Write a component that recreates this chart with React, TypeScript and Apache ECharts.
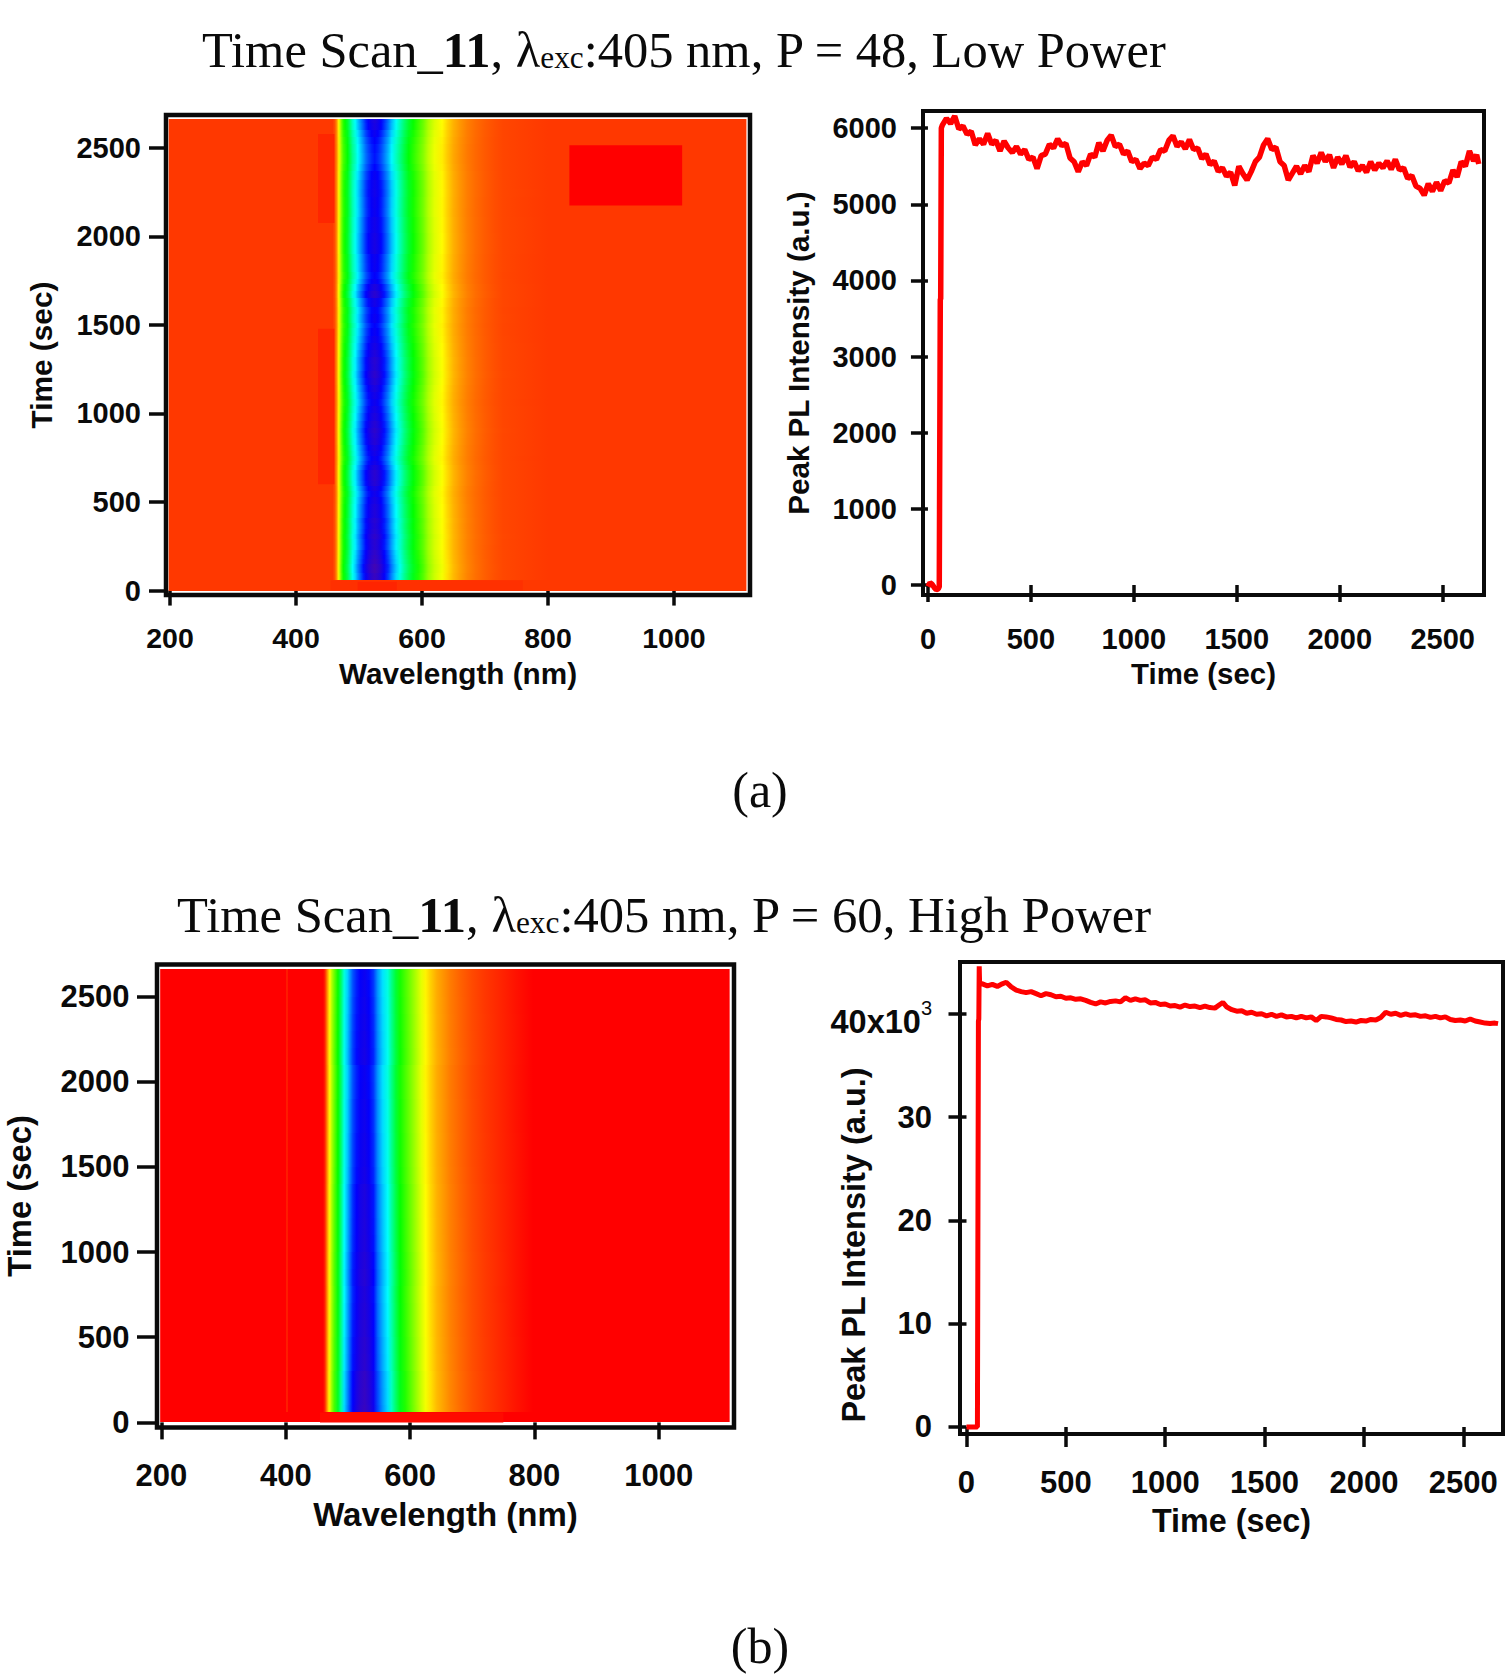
import React, { useEffect, useRef } from "react";
import * as echarts from "echarts";

const SANS = "Liberation Sans";
const SERIF = "Liberation Serif";
const INK = "#0a0a0a";

// ---- tick values
const wavelengthTicks = [200, 400, 600, 800, 1000];
const mapTimeTicks = [0, 500, 1000, 1500, 2000, 2500];
const traceTimeTicks = [0, 500, 1000, 1500, 2000, 2500];
const peakTicksA = [0, 1000, 2000, 3000, 4000, 5000, 6000];
const peakTicksB = [0, 10000, 20000, 30000, 40000];

// ---- spectrum colour levels (0 = red ... 1 = purple), panel (a)
const wavelengthsA = [198, 440, 458, 461, 464, 466, 468, 470, 472, 475, 478, 482, 486, 490, 494, 498, 502, 507, 511, 515, 520, 525, 530, 535, 540, 546, 552, 559, 565, 572, 579, 586, 594, 602, 610, 620, 632, 640, 650, 660, 672, 685, 700, 715, 729, 760, 800, 1115];
const spectrumA = [0.044, 0.044, 0.044, 0.06, 0.1, 0.15, 0.2, 0.26, 0.31, 0.37, 0.4, 0.44, 0.5, 0.56, 0.6, 0.65, 0.69, 0.74, 0.78, 0.81, 0.84, 0.86, 0.84, 0.81, 0.77, 0.72, 0.66, 0.6, 0.55, 0.49, 0.44, 0.4, 0.36, 0.32, 0.27, 0.23, 0.2, 0.17, 0.14, 0.12, 0.1, 0.085, 0.072, 0.062, 0.055, 0.05, 0.044, 0.044];
// ---- panel (b)
const wavelengthsB = [198, 400, 402, 404, 460, 463, 466, 469, 471, 474, 478, 484, 489, 494, 499, 503, 508, 514, 520, 527, 534, 541, 548, 556, 564, 570, 577, 584, 592, 600, 610, 618, 625, 633, 643, 654, 665, 681, 700, 720, 745, 770, 798, 1114];
const spectrumB = [0, 0, 0.035, 0, 0, 0.03, 0.1, 0.17, 0.21, 0.27, 0.33, 0.41, 0.5, 0.6, 0.66, 0.71, 0.77, 0.81, 0.84, 0.86, 0.83, 0.79, 0.71, 0.65, 0.6, 0.53, 0.46, 0.4, 0.36, 0.32, 0.27, 0.23, 0.2, 0.17, 0.14, 0.12, 0.1, 0.08, 0.06, 0.045, 0.03, 0.015, 0, 0];

// ---- map rows: row edges in seconds and the peak level of each row
const rowTimeA = [0, 60, 100, 130, 150, 180, 200, 230, 260, 290, 320, 350, 380, 410, 450, 490, 530, 560, 590, 620, 650, 680, 710, 730, 760, 790, 820, 860, 890, 920, 960, 1000, 1040, 1080, 1120, 1160, 1200, 1240, 1280, 1320, 1360, 1400, 1440, 1480, 1510, 1560, 1600, 1650, 1690, 1730, 1760, 1800, 1850, 1900, 1960, 2020, 2070, 2110, 2160, 2220, 2270, 2320, 2370, 2410, 2470, 2520, 2560, 2600, 2640, 2662];
const rowPeakA = [0, 6000, 6100, 6120, 6020, 5970, 5920, 5800, 5820, 5880, 5800, 5760, 5800, 5700, 5700, 5620, 5520, 5620, 5780, 5820, 5830, 5700, 5550, 5470, 5560, 5620, 5760, 5800, 5860, 5780, 5680, 5580, 5490, 5560, 5650, 5780, 5860, 5780, 5800, 5700, 5600, 5500, 5420, 5330, 5450, 5380, 5550, 5820, 5680, 5450, 5340, 5450, 5470, 5600, 5600, 5540, 5540, 5460, 5480, 5520, 5500, 5400, 5270, 5180, 5220, 5310, 5440, 5620, 5660];
const rowTimeB = [0, 60, 100, 200, 300, 400, 500, 600, 700, 800, 900, 1000, 1100, 1200, 1300, 1400, 1500, 1600, 1700, 1800, 1900, 2000, 2100, 2200, 2300, 2400, 2500, 2600, 2662];
const rowPeakB = [0, 43000, 42800, 42700, 42000, 41900, 41600, 41300, 41100, 41500, 41300, 40900, 40800, 40700, 40700, 40100, 39900, 39800, 39600, 39600, 39350, 39300, 40100, 39950, 39800, 39600, 39400, 39150];

// ---- lighter/redder patches in panels' maps: wl0, wl1, t0, t1, level
const patchesA = [
  [834, 1013, 2175, 2515, 0],
  [435, 461, 2075, 2578, 0.03],
  [435, 461, 600, 1478, 0.03],
  [455, 760, 0, 58, 0.038],
  [498, 560, 0, 50, 0.028],
];
const patchesB = [[455, 750, 0, 58, 0.008]];

// ---- peak PL traces
const timeA = [0, 10, 20, 30, 40, 50, 55, 58, 60, 62, 65, 70, 90, 110, 130, 150, 170, 190, 210, 230, 250, 270, 290, 310, 330, 350, 370, 390, 410, 430, 450, 470, 490, 510, 530, 550, 570, 590, 610, 630, 650, 670, 690, 710, 730, 750, 770, 790, 810, 830, 850, 870, 890, 910, 930, 950, 970, 990, 1010, 1030, 1050, 1070, 1090, 1110, 1130, 1150, 1170, 1190, 1210, 1230, 1250, 1270, 1290, 1310, 1330, 1350, 1370, 1390, 1410, 1430, 1450, 1470, 1490, 1510, 1530, 1550, 1570, 1590, 1610, 1630, 1650, 1670, 1690, 1710, 1730, 1750, 1770, 1790, 1810, 1830, 1850, 1870, 1890, 1910, 1930, 1950, 1970, 1990, 2010, 2030, 2050, 2070, 2090, 2110, 2130, 2150, 2170, 2190, 2210, 2230, 2250, 2270, 2290, 2310, 2330, 2350, 2370, 2390, 2410, 2430, 2450, 2470, 2490, 2510, 2530, 2550, 2570, 2590, 2610, 2630, 2650, 2665, 2675];
const peakA = [-20, 30, 10, -30, -60, -50, -20, -20, 3750, 3760, 6000, 6040, 6130, 6060, 6160, 5990, 6030, 5920, 5960, 5780, 5860, 5790, 5930, 5790, 5840, 5700, 5830, 5740, 5680, 5760, 5660, 5720, 5590, 5620, 5470, 5640, 5660, 5790, 5740, 5860, 5770, 5800, 5610, 5560, 5430, 5560, 5510, 5660, 5620, 5810, 5700, 5840, 5910, 5760, 5790, 5660, 5700, 5560, 5590, 5470, 5540, 5510, 5620, 5590, 5720, 5700, 5840, 5900, 5760, 5820, 5730, 5850, 5720, 5740, 5600, 5660, 5520, 5570, 5430, 5480, 5370, 5420, 5250, 5500, 5400, 5320, 5430, 5560, 5620, 5780, 5860, 5720, 5750, 5560, 5510, 5320, 5410, 5500, 5400, 5510, 5430, 5640, 5540, 5680, 5560, 5650, 5480, 5620, 5530, 5640, 5490, 5560, 5440, 5510, 5420, 5560, 5450, 5540, 5480, 5570, 5460, 5590, 5450, 5480, 5340, 5380, 5240, 5210, 5120, 5270, 5170, 5290, 5180, 5310, 5280, 5450, 5360, 5560, 5500, 5700, 5570, 5650, 5530];
const timeB = [0, 30, 55, 58, 60, 62, 64, 66, 80, 105, 130, 155, 180, 200, 225, 250, 275, 300, 325, 350, 375, 400, 425, 450, 475, 500, 525, 550, 575, 600, 625, 650, 675, 700, 725, 750, 775, 800, 825, 850, 875, 900, 925, 950, 975, 1000, 1025, 1050, 1075, 1100, 1125, 1150, 1175, 1200, 1225, 1250, 1275, 1290, 1310, 1335, 1360, 1385, 1410, 1435, 1460, 1485, 1510, 1535, 1560, 1585, 1610, 1635, 1660, 1685, 1710, 1735, 1760, 1785, 1810, 1835, 1860, 1885, 1910, 1935, 1960, 1985, 2010, 2035, 2060, 2085, 2110, 2135, 2160, 2185, 2210, 2235, 2260, 2285, 2310, 2335, 2360, 2385, 2410, 2435, 2460, 2485, 2510, 2535, 2560, 2585, 2610, 2635, 2660, 2675];
const peakB = [0, 0, 0, 0, 39300, 39500, 44600, 42900, 42900, 42700, 42850, 42650, 42900, 43050, 42600, 42300, 42150, 42050, 42150, 41950, 41750, 41950, 41850, 41650, 41700, 41500, 41550, 41400, 41450, 41300, 41100, 40950, 41150, 41050, 41200, 41250, 41150, 41550, 41300, 41450, 41300, 41350, 41050, 41100, 40900, 40950, 40750, 40800, 40650, 40850, 40700, 40750, 40600, 40750, 40600, 40550, 40900, 41100, 40650, 40400, 40250, 40300, 40050, 40150, 39950, 40000, 39800, 39950, 39750, 39900, 39700, 39750, 39600, 39750, 39600, 39700, 39350, 39750, 39700, 39600, 39450, 39400, 39250, 39300, 39200, 39350, 39300, 39450, 39400, 39650, 40150, 39950, 40050, 39850, 40000, 39850, 39900, 39750, 39800, 39650, 39750, 39600, 39700, 39450, 39350, 39400, 39300, 39500, 39300, 39200, 39100, 39050, 39100, 39050];

// ---- colour scale, red (low) to purple (high)
const levelStops: [number, number[]][] = [
  [0, [255, 0, 0]],
  [0.2, [255, 255, 0]],
  [0.4, [0, 255, 0]],
  [0.6, [0, 255, 255]],
  [0.8, [0, 0, 255]],
  [1, [110, 10, 130]],
];
function levelColor(v: number) {
  const x = Math.max(0, Math.min(1, v));
  for (let i = 1; i < levelStops.length; i++) {
    if (x <= levelStops[i][0]) {
      const [a, ca] = levelStops[i - 1];
      const [b, cb] = levelStops[i];
      const f = (x - a) / (b - a);
      const c = ca.map((k, j) => Math.round(k + (cb[j] - k) * f));
      return `rgb(${c[0]},${c[1]},${c[2]})`;
    }
  }
  return "rgb(110,10,130)";
}

function heatRows(grid: number, wl: number[], spec: number[], rowT: number[], rowP: number[], ref: number) {
  const w0 = wl[0];
  const w1 = wl[wl.length - 1];
  const base = spec[0];
  const data = rowP.map((p, i) => [w0, w1, rowT[i], rowT[i + 1], p / ref]);
  return {
    type: "custom",
    xAxisIndex: grid,
    yAxisIndex: grid,
    silent: true,
    clip: false,
    encode: { x: [0, 1], y: [2, 3] },
    data,
    renderItem: (_p: any, api: any) => {
      const a = api.coord([api.value(0), api.value(3)]);
      const b = api.coord([api.value(1), api.value(2)]);
      const gain = api.value(4);
      const stops = wl.map((w, i) => ({
        offset: (w - w0) / (w1 - w0),
        color: levelColor(base + (spec[i] - base) * gain),
      }));
      const y = Math.round(a[1]);
      return {
        type: "rect",
        shape: { x: a[0], y, width: b[0] - a[0], height: Math.round(b[1]) - y },
        style: { fill: new echarts.graphic.LinearGradient(0, 0, 1, 0, stops) },
      };
    },
  };
}

function heatPatches(grid: number, patches: number[][]) {
  return {
    type: "custom",
    xAxisIndex: grid,
    yAxisIndex: grid,
    silent: true,
    clip: false,
    encode: { x: [0, 1], y: [2, 3] },
    data: patches,
    renderItem: (_p: any, api: any) => {
      const a = api.coord([api.value(0), api.value(3)]);
      const b = api.coord([api.value(1), api.value(2)]);
      return {
        type: "rect",
        shape: { x: a[0], y: a[1], width: b[0] - a[0], height: b[1] - a[1] },
        style: { fill: levelColor(api.value(4)) },
      };
    },
  };
}

function trace(grid: number, t: number[], v: number[], width: number) {
  return {
    type: "line",
    xAxisIndex: grid,
    yAxisIndex: grid,
    showSymbol: false,
    symbol: "none",
    silent: true,
    lineStyle: { color: "#ff0000", width, join: "bevel" },
    data: t.map((x, i) => [x, v[i]]),
  };
}

function axis(o: {
  grid: number; min: number; max: number; ticks: number[]; name: string; fs: number;
  nameFs: number; margin: number; gap: number; tick: number; fmt?: (v: number) => string; rich?: any; pos: string; namePad?: number[];
}) {
  return {
    type: "value",
    gridIndex: o.grid,
    min: o.min,
    max: o.max,
    position: o.pos,
    name: o.name,
    nameLocation: "middle",
    nameGap: o.gap,
    nameMoveOverlap: false,
    nameTextStyle: { fontFamily: SANS, fontWeight: "bold", fontSize: o.nameFs, color: INK, padding: o.namePad ?? 0 },
    splitLine: { show: false },
    axisLine: { show: false },
    axisTick: { show: true, length: o.tick, customValues: o.ticks, lineStyle: { color: INK, width: 3.5 } },
    axisLabel: {
      show: true,
      customValues: o.ticks,
      margin: o.margin,
      fontFamily: SANS,
      fontWeight: "bold",
      fontSize: o.fs,
      color: INK,
      formatter: o.fmt ?? ((v: number) => String(v)),
      rich: o.rich,
    },
  };
}

function titleItem(left: number, top: number, power: string, fs: number) {
  return {
    left,
    top,
    text: `{a|Time Scan_}{b|11}{a|, λ}{s|exc}{a|:405 nm, ${power}}`,
    textStyle: {
      rich: {
        a: { fontFamily: SERIF, fontSize: fs, color: INK, fontWeight: "normal" },
        b: { fontFamily: SERIF, fontSize: fs, color: INK, fontWeight: "bold" },
        s: { fontFamily: SERIF, fontSize: fs * 0.62, color: INK, fontWeight: "normal", padding: [16, 0, 0, 0] },
      },
    },
  };
}

export default function App() {
  const ref = useRef<HTMLDivElement>(null);
  useEffect(() => {
    document.body.style.margin = "0";
    const chart = echarts.init(ref.current!, null, { renderer: "svg" });
    const frame = (left: number, top: number, right: number, bottom: number, borderWidth: number) => ({
      left,
      top,
      width: right - left,
      height: bottom - top,
      show: true,
      backgroundColor: "#ffffff",
      borderColor: INK,
      borderWidth,
    });
    chart.setOption({
      animation: false,
      backgroundColor: "#ffffff",
      title: [
        titleItem(197, 19, "P = 48, Low Power", 50.5),
        titleItem(172, 884, "P = 60, High Power", 50.6),
        { left: 755, top: 760, textAlign: "center", text: "(a)", textStyle: { fontFamily: SERIF, fontSize: 50, color: INK, fontWeight: "normal" } },
        { left: 755, top: 1616, textAlign: "center", text: "(b)", textStyle: { fontFamily: SERIF, fontSize: 50, color: INK, fontWeight: "normal" } },
      ],
      grid: [
        frame(166, 115, 750, 595, 4.5),
        frame(923, 111, 1484, 595, 4),
        frame(157, 964.5, 734, 1427.5, 4.5),
        frame(960, 962, 1503, 1434, 4),
      ],
      xAxis: [
        axis({ grid: 0, pos: "bottom", min: 193.7, max: 1120.7, ticks: wavelengthTicks, name: "Wavelength (nm)", fs: 28.5, nameFs: 29.7, margin: 28.5, gap: 63, tick: 15 }),
        axis({ grid: 1, pos: "bottom", min: -24, max: 2700.6, ticks: traceTimeTicks, name: "Time (sec)", fs: 29, nameFs: 29.4, margin: 29, gap: 64, tick: 17 }),
        axis({ grid: 2, pos: "bottom", min: 192.9, max: 1121, ticks: wavelengthTicks, name: "Wavelength (nm)", fs: 31, nameFs: 33, margin: 32, gap: 70, tick: 17 }),
        axis({ grid: 3, pos: "bottom", min: -32.7, max: 2700, ticks: traceTimeTicks, name: "Time (sec)", fs: 31, nameFs: 32.3, margin: 33, gap: 71, tick: 20 }),
      ],
      yAxis: [
        axis({ grid: 0, pos: "left", min: -25, max: 2685.5, ticks: mapTimeTicks, name: "Time (sec)", fs: 29, nameFs: 29.8, margin: 25, gap: 110, tick: 17 }),
        axis({ grid: 1, pos: "left", min: -131, max: 6226, ticks: peakTicksA, name: "Peak PL Intensity (a.u.)", fs: 29, nameFs: 29.6, margin: 26, gap: 110, tick: 17 }),
        axis({ grid: 2, pos: "left", min: -30, max: 2689, ticks: mapTimeTicks, name: "Time (sec)", fs: 31, nameFs: 32.8, margin: 27.5, gap: 121, tick: 20 }),
        axis({
          grid: 3, pos: "left", min: -678, max: 45014, ticks: peakTicksB, name: "Peak PL Intensity (a.u.)", fs: 31, nameFs: 32.5, margin: 28, gap: 90, tick: 18, namePad: [0, 94, 0, 0],
          fmt: (v: number) => (v === 40000 ? "{n|40x10}{p|3}" : String(v / 1000)),
          rich: {
            n: { fontFamily: SANS, fontWeight: "bold", fontSize: 32.5, color: INK, padding: [16, 0, 0, 0] },
            p: { fontFamily: SANS, fontWeight: "normal", fontSize: 20, color: INK, padding: [0, 0, 12, 0] },
          },
        }),
      ],
      series: [
        heatRows(0, wavelengthsA, spectrumA, rowTimeA, rowPeakA, 5700),
        heatPatches(0, patchesA),
        trace(1, timeA, peakA, 5.5),
        heatRows(2, wavelengthsB, spectrumB, rowTimeB, rowPeakB, 41000),
        heatPatches(2, patchesB),
        trace(3, timeB, peakB, 5),
      ],
    });
    return () => chart.dispose();
  }, []);
  return <div ref={ref} style={{ position: "absolute", left: 0, top: 0, width: 1508, height: 1675 }} />;
}
